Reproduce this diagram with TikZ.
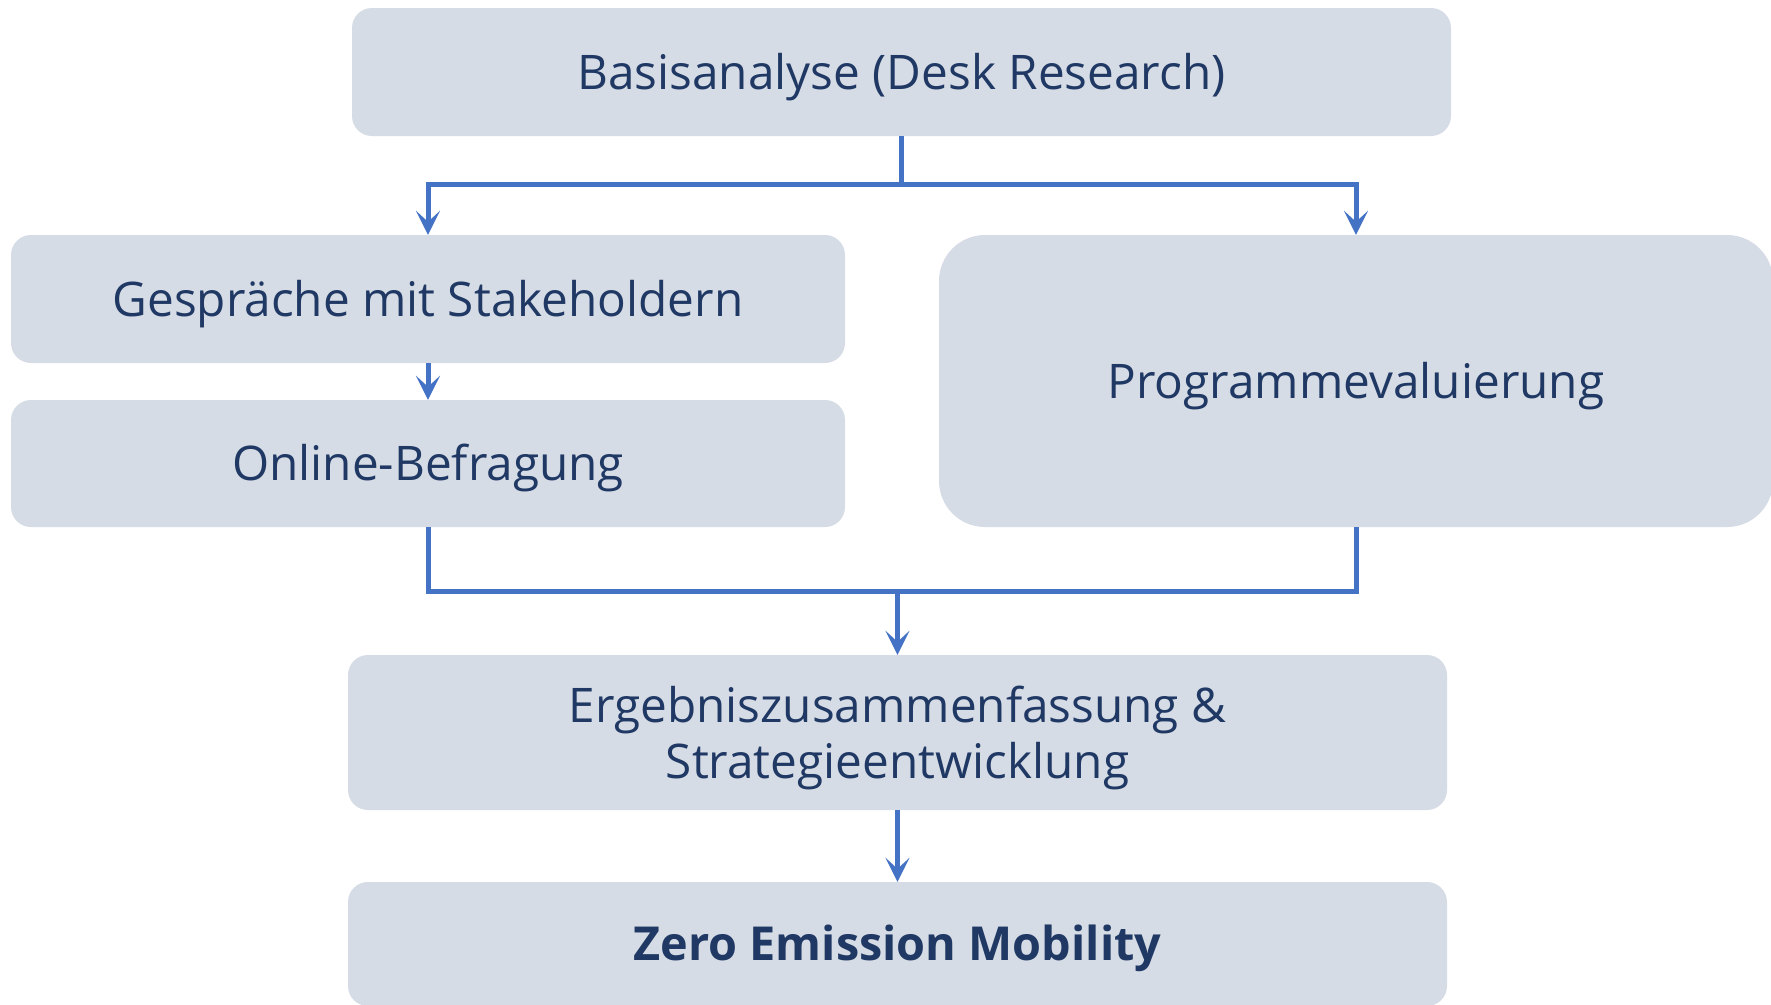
\documentclass[tikz,border=0pt]{standalone}
\usepackage{fontspec}
\setmainfont{Open Sans}
\usetikzlibrary{arrows.meta}
\definecolor{boxfill}{HTML}{D6DCE5}
\definecolor{txtcol}{HTML}{1F3864}
\definecolor{linecol}{HTML}{4472C4}
\begin{document}
\begin{tikzpicture}[x=1pt,y=-1pt,
  box/.style={fill=boxfill, draw=none, rounded corners=20pt, inner sep=0pt,
    text=txtcol, font=\fontsize{47.7}{56}\selectfont, text height=34pt, text depth=0pt},
  bigbox/.style={box, rounded corners=46pt},
  conn/.style={draw=linecol, line width=5pt},
  arr/.style={conn, -{Stealth[length=24pt,width=24pt,inset=11pt]}}
]
\clip (0,0) rectangle (1771,1004);
\fill[white] (0,0) rectangle (1771,1004);

\node[box, minimum width=1099pt, minimum height=128pt] (basis) at (901.5,72) {Basisanalyse (Desk Research)};
\node[box, minimum width=834pt, minimum height=128pt] (gesp) at (428,299) {Gespräche mit Stakeholdern};
\node[box, minimum width=834pt, minimum height=127pt] (online) at (428,463.5) {Online-Befragung};
\node[bigbox, minimum width=834pt, minimum height=292pt] (prog) at (1356,381) {Programmevaluierung};
\node[box, minimum width=1099pt, minimum height=155pt] (erg) at (897.5,732.5) {};
\node[inner sep=0pt, text=txtcol, font=\fontsize{47.7}{56}\selectfont, align=center, yshift=-5pt] (ergT) at (erg.center) {Ergebniszusammenfassung \&\\Strategieentwicklung};
\node[box, minimum width=1099pt, minimum height=124pt, font=\fontsize{46.8}{56}\selectfont\bfseries, text height=33.5pt] (zero) at (897.5,944) {Zero Emission Mobility};

\coordinate (split) at (basis.south |- 0,184);
\coordinate (merge) at (erg.north |- 0,591);

\draw[conn] (basis.south) -- (split);
\draw[arr] (split) -| (gesp.north);
\draw[arr] (split) -| (prog.north);
\draw[arr] (gesp.south) -- (online.north);
\draw[conn] (online.south) |- (merge);
\draw[conn] (prog.south) |- (merge);
\draw[arr] (merge) -- (erg.north);
\draw[arr] (erg.south) -- (zero.north);
\end{tikzpicture}
\end{document}
